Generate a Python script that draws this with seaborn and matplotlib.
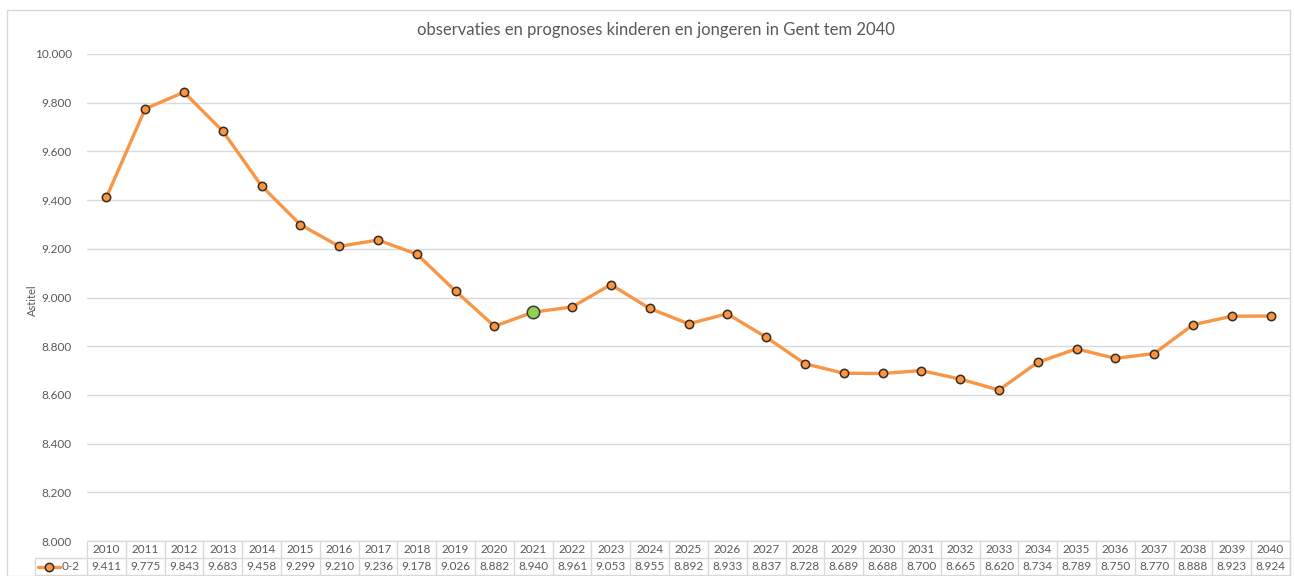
import matplotlib
matplotlib.use("Agg")
import matplotlib.pyplot as plt
import matplotlib.transforms as mtransforms
import seaborn as sns
import pandas as pd

years = list(range(2010, 2041))
values = [9411, 9775, 9843, 9683, 9458, 9299, 9210, 9236, 9178, 9026, 8882,
          8940, 8961, 9053, 8955, 8892, 8933, 8837, 8728, 8689, 8688, 8700,
          8665, 8620, 8734, 8789, 8750, 8770, 8888, 8923, 8924]
series_name = "0-2"
highlight_year = 2021
title = "observaties en prognoses kinderen en jongeren in Gent tem 2040"
ylabel = "Astitel"
yticks = [8000, 8200, 8400, 8600, 8800, 9000, 9200, 9400, 9600, 9800, 10000]

def fmt(v):
    return f"{v/1000:.3f}"

sns.set_theme(style="white")
plt.rcParams['font.family'] = ['Lato', 'DejaVu Sans']

orange = "#F79646"
grey_txt = "#595959"
grid_c = "#D9D9D9"
edge_c = "#3a2a1a"

df = pd.DataFrame({"idx": range(len(years)), "year": years, "value": values})

fig = plt.figure(figsize=(12.95, 5.76), dpi=100)
ax = fig.add_axes([87/1295, (576-541)/576, (1290-87)/1295, (541-54)/576])

sns.lineplot(data=df, x="idx", y="value", ax=ax, color=orange, linewidth=2.4,
             marker="o", markersize=6, markerfacecolor=orange,
             markeredgecolor=edge_c, markeredgewidth=1.1, zorder=3)
hl = df[df["year"] == highlight_year]
ax.scatter(hl["idx"], hl["value"], s=80, color="#92D050", edgecolor="#3a3a3a",
           linewidth=1.1, zorder=4)

ax.set_xlim(-0.5, len(years) - 0.5)
ax.set_ylim(8000, 10000)
ax.set_yticks(yticks)
ax.set_yticklabels([fmt(t) for t in yticks], color=grey_txt, fontsize=8.5)
ax.tick_params(axis="y", length=0, pad=11)
ax.set_xticks([])
ax.set_xlabel("")
ax.set_ylabel("")
ax.grid(axis="y", color=grid_c, linewidth=1.0)
ax.set_axisbelow(True)
for s in ax.spines.values():
    s.set_visible(False)

fig.text(32/1295, (576-300)/576, ylabel, rotation=90, ha="center", va="center",
         fontsize=8, color=grey_txt)

# data table below the axes
trans = mtransforms.blended_transform_factory(ax.transData, fig.transFigure)
y_top = (576-541)/576
y_mid = (576-558)/576
y_bot = (576-575)/576
line_kw = dict(color=grid_c, linewidth=1.0, clip_on=False)
for i, (yr, v) in enumerate(zip(years, values)):
    ax.text(i, (y_top+y_mid)/2, str(yr), transform=trans, ha="center", va="center",
            fontsize=8.5, color=grey_txt)
    ax.text(i, (y_mid+y_bot)/2, fmt(v), transform=trans, ha="center", va="center",
            fontsize=8.5, color=grey_txt)
for k in range(len(years) + 1):
    ax.plot([k-0.5, k-0.5], [y_top, y_bot], transform=trans, **line_kw)
ax.plot([-0.5, len(years)-0.5], [y_top, y_top], transform=trans, **line_kw)
fig.add_artist(plt.Line2D([35/1295, 1290/1295], [y_mid, y_mid], **line_kw))
fig.add_artist(plt.Line2D([35/1295, 1290/1295], [y_bot, y_bot], **line_kw))
fig.add_artist(plt.Line2D([35/1295, 35/1295], [y_mid, y_bot], **line_kw))
# legend key in the table
ky = (y_mid+y_bot)/2
fig.add_artist(plt.Line2D([38/1295, 60/1295], [ky, ky], color=orange,
                          linewidth=2.4, marker="", linestyle="-"))
fig.add_artist(plt.Line2D([49/1295], [ky], color=orange, marker="o",
                          markersize=6, markerfacecolor=orange,
                          markeredgecolor=edge_c, markeredgewidth=1.1, linestyle="none"))
fig.text(62/1295, ky, series_name, ha="left", va="center",
         fontsize=8.5, color=grey_txt)

# outer chart border
fig.add_artist(plt.Rectangle((7/1295, 0), (1290-7)/1295, (576-10)/576,
                             fill=False, edgecolor=grid_c, linewidth=1.0))

fig.text(656/1295, (576-30)/576, title, ha="center", va="center",
         fontsize=12, color=grey_txt)

fig.savefig("out.png", dpi=100)
